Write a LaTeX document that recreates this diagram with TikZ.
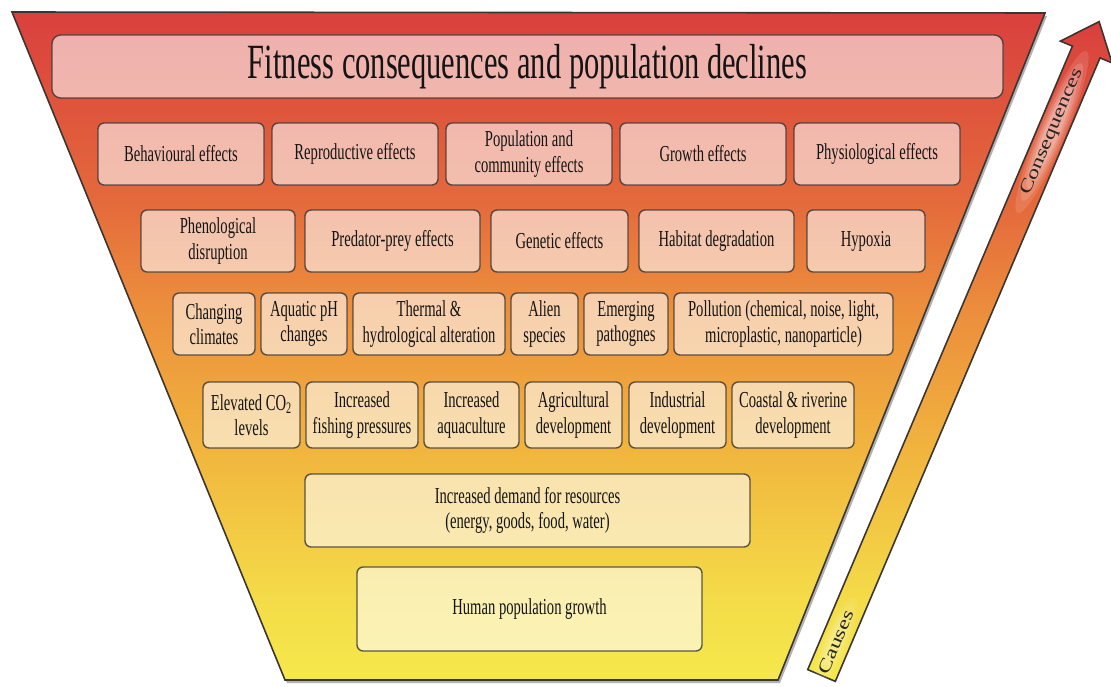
\documentclass[tikz,border=0pt]{standalone}
\usepackage{fontspec}
\setmainfont{Liberation Serif}[FakeStretch=0.64]
\newfontfamily\titlefont{Liberation Serif}[FakeStretch=0.62]
\newfontfamily\arrowfont{Liberation Serif}[FakeStretch=1.35]

\definecolor{fyellow}{HTML}{F5E84C}
\definecolor{fyellowb}{HTML}{F4DC48}
\definecolor{forangey}{HTML}{F1B63E}
\definecolor{forange}{HTML}{EC8E3C}
\definecolor{forangered}{HTML}{E4693C}
\definecolor{fred}{HTML}{D9403D}
\definecolor{edgegrey}{HTML}{3A3530}

\pgfdeclareverticalshading{funnelshade}{100bp}{color(0bp)=(fyellow); color(25bp)=(fyellow);
  color(31bp)=(fyellowb); color(42bp)=(forangey); color(53bp)=(forange);
  color(61bp)=(forangered); color(75bp)=(fred); color(100bp)=(fred)}

\begin{document}
\begin{tikzpicture}[x=0.02cm,y=-0.02cm,
    box/.style={draw=black!80,draw opacity=0.8,line width=0.8pt,fill=white,fill opacity=0.58,
      text opacity=1,text=black!92,rounded corners=3.5pt,align=center,inner sep=0pt,
      font=\fontsize{13}{14.5}\selectfont},
    wd/.style={minimum width=#1*0.02cm},
    ht/.style={minimum height=#1*0.02cm},
    arrowtext/.style={rotate=67,font=\arrowfont\fontsize{10}{12}\selectfont,text=black!85,inner sep=0pt}]
  \fill[white] (0,0) rectangle (1111,686);
  \useasboundingbox (0,0) rectangle (1111,686);

  % funnel
  \fill[black!30] (14,15) -- (1047,16) -- (780,683) -- (287,683) -- cycle;
  \shadedraw[shading=funnelshade,draw=edgegrey,line width=0.9pt]
    (12,12) -- (1045,13) -- (778,680) -- (285,680) -- cycle;

  % arrow
  \shadedraw[shading=funnelshade,draw=edgegrey,line width=0.9pt]
    (807.7,669.6) -- (1072.4,46.1) -- (1060.4,41.1) -- (1099.1,21.6)
    -- (1112.0,62.9) -- (1100.0,57.9) -- (835.3,681.4) -- cycle;
  % soft glow behind the labels
  \foreach \r/\o in {1/0.12,0.85/0.14,0.7/0.16,0.55/0.2}{
    \fill[white,fill opacity=\o,rotate around={67:(1052,132)}] (1052,132) ellipse [x radius=88*\r,y radius=13.5*\r];
    \fill[white,fill opacity=0.6*\o,rotate around={67:(835.6,642)}] (835.6,642) ellipse [x radius=48*\r,y radius=12*\r];
  }
  \node[arrowtext] (conseq) at (1052,132) {Consequences};
  \node[arrowtext] (causes) at (835.6,642) {Causes};

  % top
  \node[box,wd=951,ht=63,rounded corners=5pt,font=\titlefont\fontsize{28}{32}\selectfont] (title) at (527.5,66.5)
    {Fitness consequences and population declines};

  % effects
  \node[box,wd=166,ht=62] (behav) at (181,154) {Behavioural effects};
  \node[box,wd=166,ht=62] (repro) at (355,154) {Reproductive effects};
  \node[box,wd=166,ht=62] (popcom) at (529,154) {Population and\\community effects};
  \node[box,wd=166,ht=62] (growth) at (703,154) {Growth effects};
  \node[box,wd=166,ht=62] (physio) at (877,154) {Physiological effects};

  \node[box,wd=154,ht=62] (pheno) at (218,241) {Phenological\\disruption};
  \node[box,wd=175,ht=62] (predprey) at (392.5,241) {Predator-prey effects};
  \node[box,wd=137,ht=62] (genetic) at (559.5,241) {Genetic effects};
  \node[box,wd=155,ht=62] (habitat) at (716.5,241) {Habitat degradation};
  \node[box,wd=118,ht=62] (hypoxia) at (866,241) {Hypoxia};

  % stressors
  \node[box,wd=82,ht=62] (climate) at (214,324) {Changing\\climates};
  \node[box,wd=86,ht=62] (ph) at (304,324) {Aquatic pH\\changes};
  \node[box,wd=152,ht=62] (thermal) at (429,324) {Thermal \&\\hydrological alteration};
  \node[box,wd=67,ht=62] (alien) at (544.5,324) {Alien\\species};
  \node[box,wd=84,ht=62] (pathog) at (626,324) {Emerging\\pathognes};
  \node[box,wd=219,ht=62] (pollut) at (783.5,324) {Pollution (chemical, noise, light,\\microplastic, nanoparticle)};

  % drivers
  \node[box,wd=97,ht=66] (co2) at (251.5,415) {Elevated CO\textsubscript{2}\\levels};
  \node[box,wd=112,ht=66] (fishing) at (362,415) {Increased\\fishing pressures};
  \node[box,wd=95,ht=66] (aqua) at (471.5,415) {Increased\\aquaculture};
  \node[box,wd=97,ht=66] (agri) at (573.5,415) {Agricultural\\development};
  \node[box,wd=97,ht=66] (indus) at (677.5,415) {Industrial\\development};
  \node[box,wd=122,ht=66] (coastal) at (793,415) {Coastal \& riverine\\development};

  \node[box,wd=445,ht=73] (demand) at (527.5,510.5) {Increased demand for resources\\(energy, goods, food, water)};
  \node[box,wd=345,ht=84] (humans) at (529.5,609) {Human population growth};
\end{tikzpicture}
\end{document}
